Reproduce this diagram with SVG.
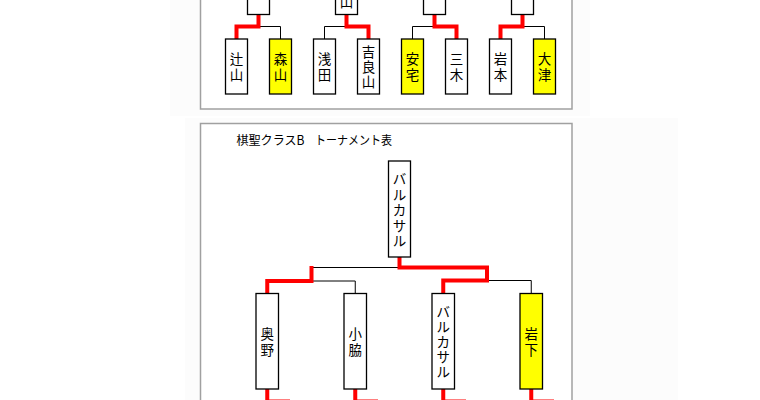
<svg xmlns="http://www.w3.org/2000/svg" width="760" height="400" viewBox="0 0 760 400">
<style>
.bg{fill:#fcfcfc}
.panel{fill:#ffffff;stroke:#a0a0a0;stroke-width:1.5}
.box{fill:#ffffff;stroke:#000;stroke-width:1.3}
.win{fill:#ffff00;stroke:#000;stroke-width:1.3}
.red{fill:none;stroke:#ff0000;stroke-width:4;stroke-linejoin:miter;stroke-linecap:butt}
.blk{fill:none;stroke:#000;stroke-width:1}
text{font-family:"Noto Sans CJK JP","Noto Sans",sans-serif;fill:#000}
.v{font-size:13.5px;text-anchor:middle;dominant-baseline:central}
.t{font-size:12.5px}
</style>
<rect width="760" height="400" fill="#ffffff"/>
<rect class="bg" x="170" y="0" width="420" height="116"/>
<rect class="bg" x="185" y="118" width="493" height="282"/>
<rect class="panel" x="200.5" y="-10" width="371.5" height="119"/>
<rect class="panel" x="200.5" y="123.5" width="371.5" height="300"/>

<g id="connectors">
  <path class="blk" d="M258.5,26.5 H280.5 V39"/>
  <path class="red" d="M258.5,14.5 V26.5 H236.5 V39"/>
  <path class="blk" d="M346.5,26.5 H324.5 V39"/>
  <path class="red" d="M346.5,14.5 V26.5 H368.5 V39"/>
  <path class="blk" d="M434.5,26.5 H412.5 V39"/>
  <path class="red" d="M434.5,14.5 V26.5 H456.5 V39"/>
  <path class="blk" d="M522.5,26.5 H544.5 V39"/>
  <path class="red" d="M522.5,14.5 V26.5 H500.5 V39"/>

  <path class="blk" d="M311.5,267.5 H399.5"/>
  <path class="blk" d="M311.5,281 H355.25 V293.5"/>
  <path class="blk" d="M487,280.5 H531.25 V293.5"/>
  <path class="red" d="M267.25,293.5 V281 H311.5 V266"/>
  <path class="red" d="M399.5,257 V267.5 H487 V280.5 H443.25 V293.5"/>
  <path class="red" d="M267.25,389 V401.6 H290"/>
  <path class="red" d="M355.25,389 V401.6 H378"/>
  <path class="red" d="M443.25,389 V401.6 H466"/>
  <path class="red" d="M531.25,389 V401.6 H554"/>
</g>

<g id="p1"><rect class="box" x="247.5" y="-30" width="22" height="44.5"/></g>
<g id="p2"><rect class="box" x="335.5" y="-30" width="22" height="44.5"/>
  <text class="v" x="346.5" y="0.5">山</text></g>
<g id="p3"><rect class="box" x="423.5" y="-30" width="22" height="44.5"/></g>
<g id="p4"><rect class="box" x="511.5" y="-30" width="22" height="44.5"/></g>

<g id="tsujiyama"><rect class="box" x="225.5" y="39" width="22" height="55"/>
  <text class="v" x="236.5" y="58">辻</text><text class="v" x="236.5" y="74">山</text></g>
<g id="moriyama"><rect class="win" x="269.5" y="39" width="22" height="55"/>
  <text class="v" x="280.5" y="58">森</text><text class="v" x="280.5" y="74">山</text></g>
<g id="asada"><rect class="box" x="313.5" y="39" width="22" height="55"/>
  <text class="v" x="324.5" y="58">浅</text><text class="v" x="324.5" y="74">田</text></g>
<g id="kirayama"><rect class="box" x="357.5" y="39" width="22" height="55"/>
  <text class="v" x="368.5" y="51">吉</text><text class="v" x="368.5" y="66">良</text><text class="v" x="368.5" y="81">山</text></g>
<g id="yasutaku"><rect class="win" x="401.5" y="39" width="22" height="55"/>
  <text class="v" x="412.5" y="58">安</text><text class="v" x="412.5" y="74">宅</text></g>
<g id="miki"><rect class="box" x="445.5" y="39" width="22" height="55"/>
  <text class="v" x="456.5" y="58">三</text><text class="v" x="456.5" y="74">木</text></g>
<g id="iwamoto"><rect class="box" x="489.5" y="39" width="22" height="55"/>
  <text class="v" x="500.5" y="58">岩</text><text class="v" x="500.5" y="74">本</text></g>
<g id="otsu"><rect class="win" x="533.5" y="39" width="22" height="55"/>
  <text class="v" x="544.5" y="58">大</text><text class="v" x="544.5" y="74">津</text></g>

<g id="title">
  <text class="t" x="236.5" y="145" textLength="68" lengthAdjust="spacingAndGlyphs">棋聖クラスB</text>
  <text class="t" x="315" y="145" textLength="77" lengthAdjust="spacingAndGlyphs">トーナメント表</text>
</g>

<g id="champion"><rect class="box" x="388.5" y="161" width="22" height="96"/>
  <text class="v" x="399.5" y="178">バ</text><text class="v" x="399.5" y="193.5">ル</text><text class="v" x="399.5" y="209">カ</text><text class="v" x="399.5" y="224.5">サ</text><text class="v" x="399.5" y="240">ル</text></g>

<g id="okuno"><rect class="box" x="256" y="293.5" width="22.5" height="95.5"/>
  <text class="v" x="267.25" y="333">奥</text><text class="v" x="267.25" y="348.5">野</text></g>
<g id="kowaki"><rect class="box" x="344" y="293.5" width="22.5" height="95.5"/>
  <text class="v" x="355.25" y="333">小</text><text class="v" x="355.25" y="348.5">脇</text></g>
<g id="barukasaru"><rect class="box" x="432" y="293.5" width="22.5" height="95.5"/>
  <text class="v" x="443.25" y="311">バ</text><text class="v" x="443.25" y="326">ル</text><text class="v" x="443.25" y="341">カ</text><text class="v" x="443.25" y="356">サ</text><text class="v" x="443.25" y="371">ル</text></g>
<g id="iwashita"><rect class="win" x="520" y="293.5" width="22.5" height="95.5"/>
  <text class="v" x="531.25" y="333">岩</text><text class="v" x="531.25" y="348.5">下</text></g>
</svg>
